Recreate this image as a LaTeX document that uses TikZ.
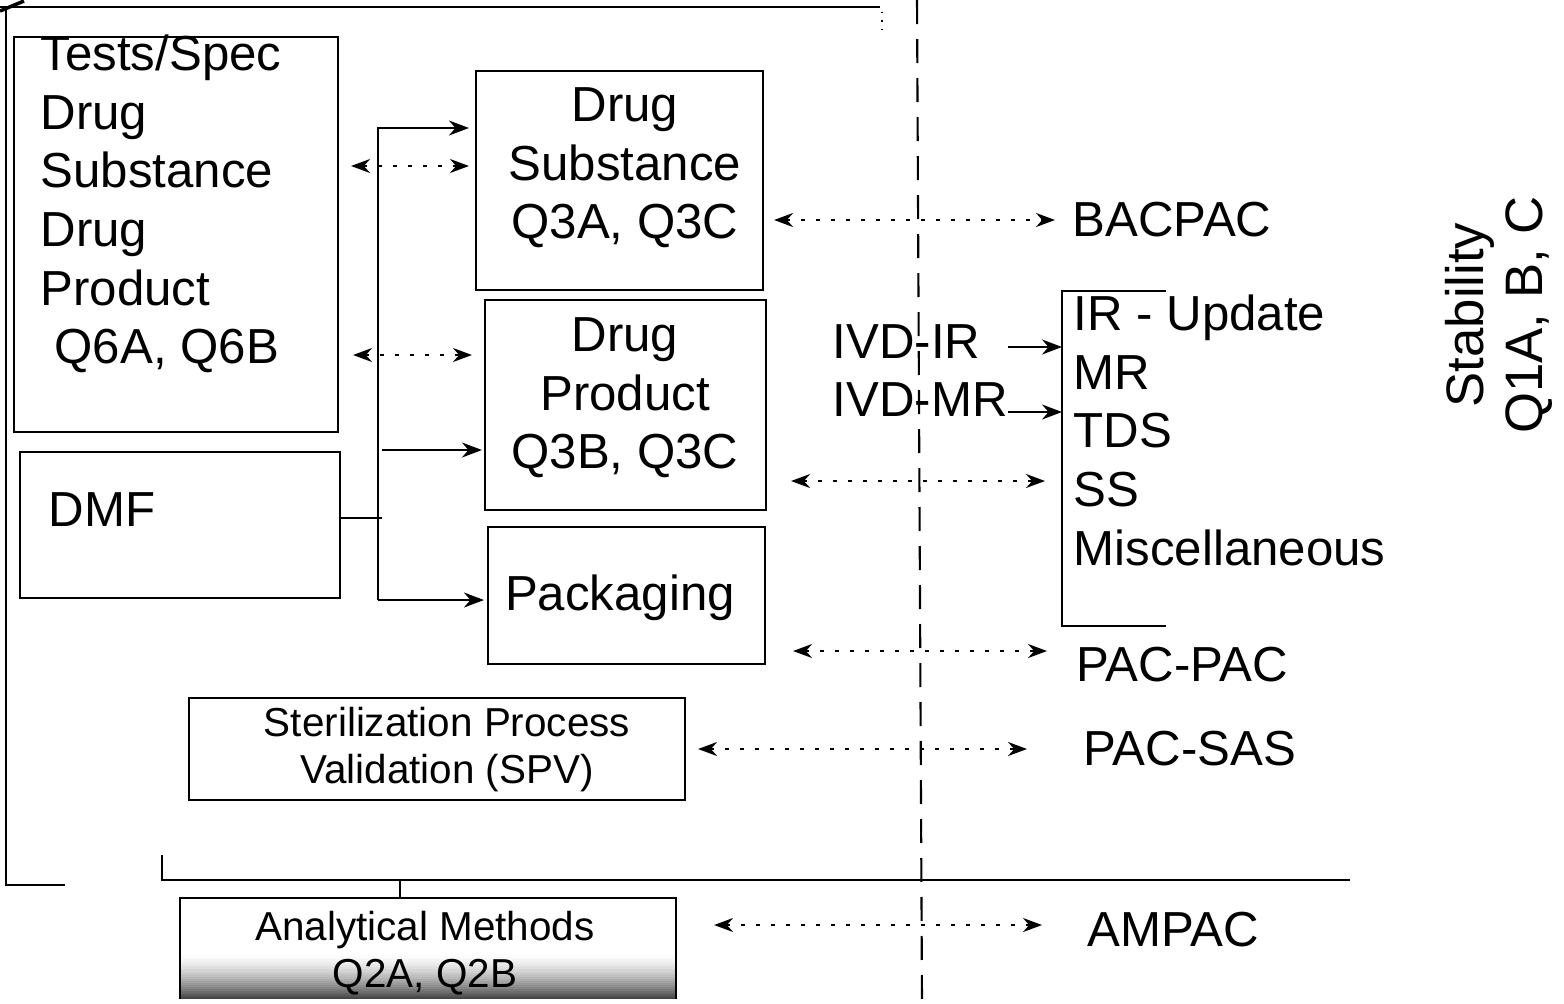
\documentclass[tikz,border=0pt]{standalone}
\usepackage{fontspec}
\setmainfont{Liberation Sans}
\usetikzlibrary{arrows.meta}

\tikzset{
  box/.style={draw, line width=0.6pt, inner sep=0pt},
  lbl/.style={inner sep=0pt, font=\fontsize{14}{16.7}\selectfont},
  smalllbl/.style={inner sep=0pt, align=center, font=\fontsize{11.5}{13.5}\selectfont},
  frame/.style={line width=0.6pt},
  divider/.style={line width=0.6pt, dash pattern=on 2.4mm off 1.5mm},
  arr/.style={line width=0.6pt, -{Stealth[length=2mm,width=1.5mm]}},
  darr/.style={line width=0.6pt, dash pattern=on 0.4mm off 1.1mm,
    {Stealth[length=1.9mm,width=1.4mm]}-{Stealth[length=1.9mm,width=1.4mm]}},
}

\begin{document}
\begin{tikzpicture}[x=0.1mm, y=-0.1mm]
  \useasboundingbox (0,0) rectangle (1564,1003);

  % outer frames and divider
  \draw[line width=1pt] (0,11) -- (24,1);
  \draw[frame] (0,7) -- (880,7);
  \draw[frame] (6,7) -- (6,885) -- (65,885);
  \draw[dotted] (882,12) -- (882,34);
  \draw[frame] (162,855) -- (162,880) -- (1350,880);
  \draw[divider] (917,0) -- (922,1003);

  % left column
  \node[box, minimum width=32.4mm, minimum height=39.5mm] (tests) at (176,234.5) {};
  \node[lbl, anchor=north west, align=left] (testsTxt) at (40,34)
    {Tests/Spec\\Drug\\Substance\\Drug\\Product\\\hspace*{1.4mm}Q6A, Q6B};
  \node[box, minimum width=32mm, minimum height=14.6mm] (dmf) at (180,525) {};
  \node[lbl, anchor=west] (dmfTxt) at (48,510) {DMF};

  % middle column
  \node[box, minimum width=28.7mm, minimum height=21.9mm] (dsub) at (619.5,180.5) {};
  \node[lbl, anchor=north, align=center] (dsubTxt) at (625,87) {Drug\\Substance\\Q3A, Q3C};
  \node[box, minimum width=28.1mm, minimum height=21mm] (dprod) at (625.5,405) {};
  \node[lbl, anchor=north, align=center] (dprodTxt) at (625,317) {Drug\\Product\\Q3B, Q3C};
  \node[box, minimum width=27.7mm, minimum height=13.7mm] (pack) at (626.5,595.5) {};
  \node[lbl, anchor=base] (packTxt) at (620,610) {Packaging};
  \node[box, minimum width=49.6mm, minimum height=10.2mm] (ster) at (437,749) {};
  \node[smalllbl, anchor=north] (sterTxt) at (447,706) {Sterilization Process\\Validation (SPV)};
  \node[box, minimum width=49.6mm, minimum height=10mm] (am) at (428,948) {};
  % darkening toward the bottom edge
  \foreach \i in {0,...,23} {
    \pgfmathtruncatemacro\shadeval{(\i/23)^1.6*72}
    \fill[black!\shadeval] (181,951+2*\i) rectangle (675,953.2+2*\i);
  }
  \node[smalllbl, anchor=north] (amTxt) at (425,910) {Analytical Methods\\Q2A, Q2B};

  % right column
  \node[anchor=north west, inner sep=0pt, minimum width=10.3mm, minimum height=33.4mm] (lst) at (1062,291) {};
  \draw[frame] (lst.north east) -- (lst.north west) -- (lst.south west) -- (lst.south east);
  \node[lbl, anchor=north west, align=left] (lstTxt) at (1073,294)
    {IR - Update\\MR\\TDS\\SS\\Miscellaneous};
  \node[lbl, anchor=west] (ivdir) at (832,342) {IVD-IR};
  \node[lbl, anchor=west] (ivdmr) at (832,400) {IVD-MR};
  \node[lbl, anchor=west] (bacpac) at (1072,220) {BACPAC};
  \node[lbl, anchor=west] (pacpac) at (1076,665) {PAC-PAC};
  \node[lbl, anchor=west] (pacsas) at (1083,749) {PAC-SAS};
  \node[lbl, anchor=west] (ampac) at (1087,930) {AMPAC};
  \node[inner sep=0pt, rotate=90, align=center, font=\fontsize{15}{16.6}\selectfont] (stab) at (1499,315)
    {Stability\\Q1A, B, C};

  % feed lines
  \coordinate (tk1) at (378,128);
  \coordinate (tk2) at (378,600);
  \coordinate (tk3) at (382,450);
  \coordinate (tk4) at (378,518);
  \draw[arr, shorten >=0.6mm] (tk2) -- (tk1) -- (tk1 -| dsub.west);
  \draw[arr, shorten >=0.3mm] (tk2) -- (tk2 -| pack.west);
  \draw[arr, shorten >=0.2mm] (tk3) -- (tk3 -| dprod.west);
  \draw[frame] (tk4 -| dmf.east) -- ([xshift=0.4mm]tk4);

  % relations
  \coordinate (rowA) at (0,166);
  \coordinate (rowB) at (0,355);
  \coordinate (rowC) at (0,220);
  \coordinate (rowD) at (0,481);
  \coordinate (rowE) at (0,651);
  \coordinate (rowF) at (0,749);
  \coordinate (rowG) at (0,925);
  \coordinate (rowH) at (0,347);
  \coordinate (rowI) at (0,412);
  \draw[darr, shorten <=1.2mm, shorten >=0.6mm] (rowA -| tests.east) -- (rowA -| dsub.west);
  \draw[darr, shorten <=1.4mm, shorten >=1.2mm] (rowB -| tests.east) -- (rowB -| dprod.west);
  \draw[darr, shorten <=1mm, shorten >=1.7mm] (rowC -| dsub.east) -- (rowC -| bacpac.west);
  \draw[darr, shorten <=2.4mm, shorten >=1.7mm] (rowD -| dprod.east) -- (rowD -| lst.west);
  \draw[darr, shorten <=2.7mm, shorten >=1.5mm] (rowE -| pack.east) -- (rowE -| lst.west);
  \draw[darr, shorten <=1.2mm, shorten >=5.6mm] (rowF -| ster.east) -- (rowF -| pacsas.west);
  \draw[darr, shorten <=3.7mm, shorten >=4.5mm] (rowG -| am.east) -- (rowG -| ampac.west);
  \draw[arr, shorten <=2.7mm] (rowH -| ivdir.east) -- (rowH -| lst.west);
  \draw[arr] (rowI -| ivdmr.east) -- (rowI -| lst.west);

  % tap into analytical methods
  \coordinate (amTap) at (400,880);
  \draw[frame] (amTap) -- (amTap |- am.north);
\end{tikzpicture}
\end{document}
